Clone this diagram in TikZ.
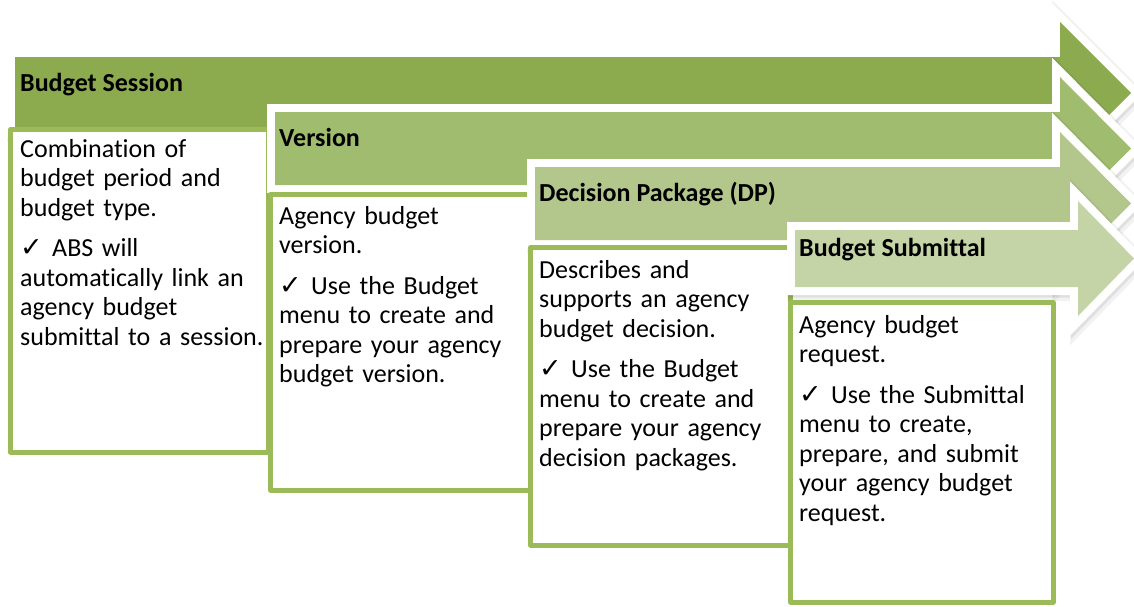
\documentclass[tikz,border=0pt]{standalone}
\usepackage{fontspec}
\setmainfont{Carlito}[Ligatures={NoCommon}]
\newfontfamily\symfont{DejaVu Sans}
\definecolor{gA}{HTML}{8CAA4E}
\definecolor{gB}{HTML}{A0BC6E}
\definecolor{gC}{HTML}{B3C78C}
\definecolor{gD}{HTML}{C4D4A6}
\definecolor{boxg}{HTML}{9BBB59}
\newcommand{\bigarrow}[2]{%
  \path[draw=black, draw opacity=.05, line width=21, line join=miter, shift={(2.5,3.5)}] #2;
  \path[draw=black, draw opacity=.08, line width=17, line join=miter, shift={(1.5,2)}] #2;
  \path[draw=white, line width=16, line join=miter] #2;
  \path[fill=#1] #2;}
\newcommand{\chk}{\makebox[32pt][l]{\symfont\bfseries\fontsize{27}{27}\selectfont ✓}}
\tikzset{
  titletext/.style={anchor=base west, inner sep=0pt, font=\fontsize{26}{30}\selectfont\bfseries},
  bodytext/.style={anchor=base west, inner sep=0pt, align=left, text width=250pt, font=\fontsize{26}{29.5}\selectfont},
  boxline/.style={draw=boxg, line width=5, fill=white, line join=round}
}
\begin{document}
\begin{tikzpicture}[x=1pt,y=-1pt]
\useasboundingbox (0,0) rectangle (1134,606);
% arrow 1
\bigarrow{gA}{(15,57) -- (1060,57) -- (1060,22) -- (1131,93) -- (1060,164) -- (1060,129) -- (15,129) -- cycle}
\node[titletext] (t1) at (20,91) {Budget Session};
\draw[boxline] (10.5,129.5) rectangle (268,452);
\node[bodytext] (b1) at (20,157) {Combination of\\ budget period and\\ budget type.\\[11pt]
\chk ABS will\\ automatically link an\\ agency budget\\ submittal to a session.};
% arrow 2
\bigarrow{gB}{(275,112) -- (1060,112) -- (1060,77) -- (1131,148.5) -- (1060,220) -- (1060,185) -- (275,185) -- cycle}
\node[titletext] (t2) at (279,146) {Version};
\draw[boxline] (270.5,194.5) rectangle (530,490);
\node[bodytext] (b2) at (279,224) {Agency budget\\ version.\\[11pt]
\chk Use the Budget\\ menu to create and\\ prepare your agency\\ budget version.};
% arrow 3
\bigarrow{gC}{(535,167) -- (1060,167) -- (1060,132) -- (1131,203.5) -- (1060,275) -- (1060,240) -- (535,240) -- cycle}
\node[titletext] (t3) at (539,201) {Decision Package (DP)};
\draw[boxline] (530.5,247.5) rectangle (790,545);
\node[bodytext] (b3) at (539,278) {Describes and\\ supports an agency\\ budget decision.\\[11pt]
\chk Use the Budget\\ menu to create and\\ prepare your agency\\ decision packages.};
% arrow 4
\bigarrow{gD}{(795,230) -- (1078,230) -- (1078,201) -- (1134,258.5) -- (1078,316) -- (1078,287) -- (795,287) -- cycle}
\node[titletext] (t4) at (799,256) {Budget Submittal};
\draw[boxline] (790.5,302.5) rectangle (1053,602);
\node[bodytext] (b4) at (799,333) {Agency budget\\ request.\\[11pt]
\chk Use the Submittal\\ menu to create,\\ prepare, and submit\\ your agency budget\\ request.};
\end{tikzpicture}
\end{document}
